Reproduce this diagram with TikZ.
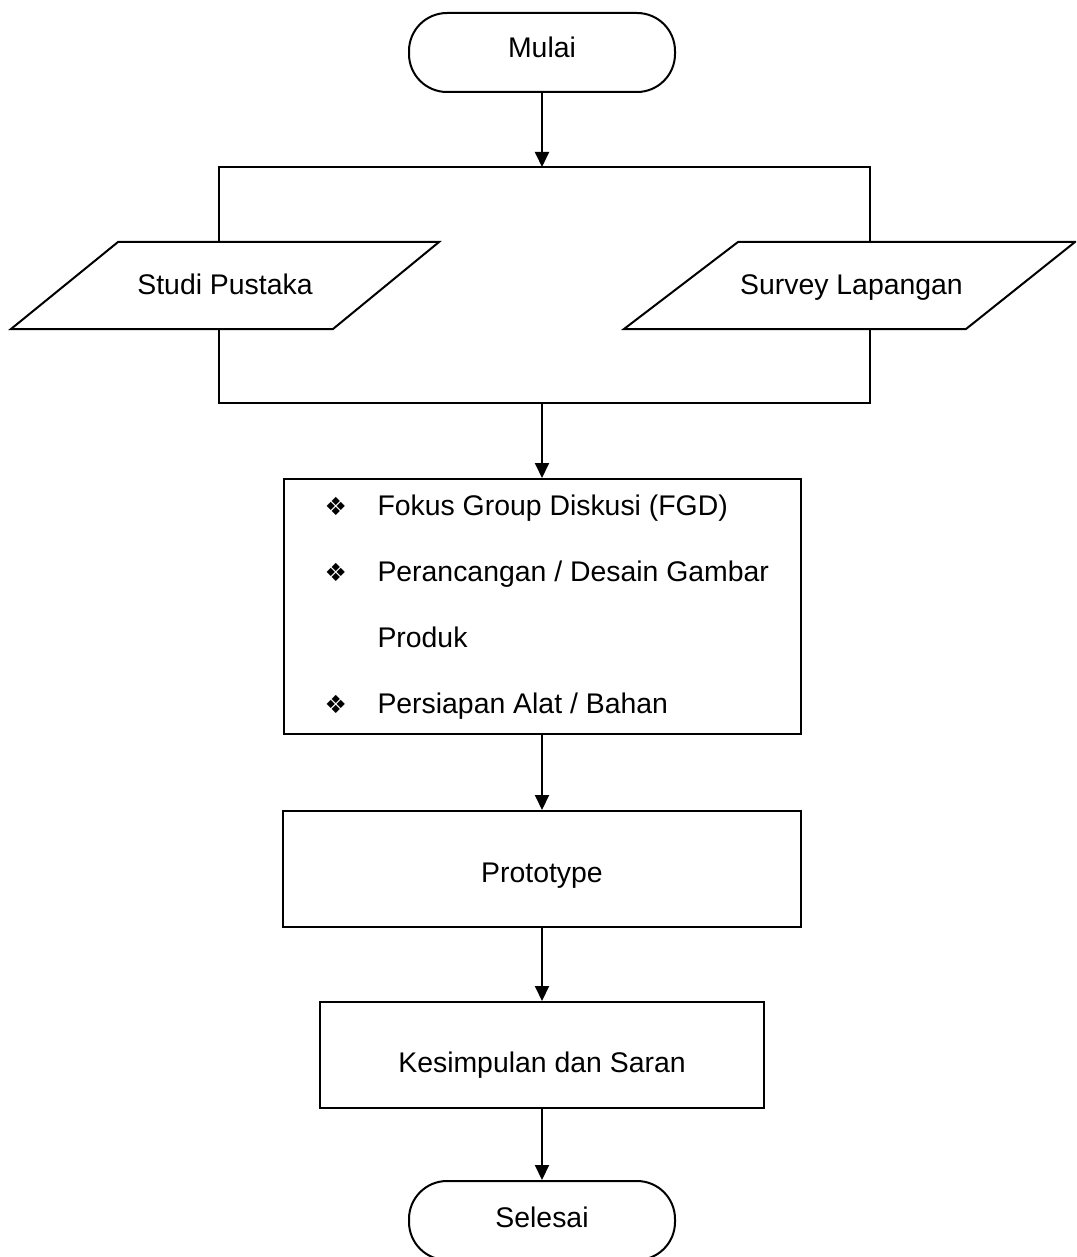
\documentclass[tikz,border=0pt]{standalone}
\usepackage{fontspec}
\setmainfont{Liberation Sans}
\newfontfamily\dingfont{DejaVu Sans}
\usepackage{tikz}
\usetikzlibrary{arrows.meta}

\newcommand{\itembul}{\makebox[26.5pt][l]{\fontsize{12.5}{12.5}\dingfont ❖}}

\begin{document}
\begin{tikzpicture}[x=0.5pt,y=-0.5pt,->,>={Triangle[length=7.5pt,width=7pt]},line width=1pt,
                    font=\fontsize{14.2}{17}\selectfont,
                    term node/.style={rectangle,draw,rounded corners=19pt,minimum width=133pt,minimum height=39.5pt,
                                      text height=10.2pt},
                    box node/.style={rectangle,draw,text depth=0pt}]

  \useasboundingbox (0,0) rectangle (1076,1257);
  \clip (0,0) rectangle (1076,1257);

  \node[term node,text depth=4.7pt] (mulai) at (542,52.5) {Mulai};
  \coordinate (split) at (542,167);
  \coordinate (sp-l) at (219,242);
  \coordinate (sp-r) at (870,242);

  \node[anchor=base] (studi) at (225,294) {Studi Pustaka};
  \node[anchor=base] (survey) at (851.5,294) {Survey Lapangan};
  \draw[-] (118,242) -- (439,242) -- (333,329) -- (11,329) -- cycle;
  \draw[-] (738,242) -- (1075,242) -- (966,329) -- (624,329) -- cycle;

  \coordinate (jn-l) at (219,329);
  \coordinate (jn-r) at (870,329);
  \coordinate (join) at (542,403);

  \node[box node,minimum width=258.5pt,minimum height=127.5pt] (fgd) at (542,606.5) {};
  \node[anchor=west,align=left,inner sep=0pt,font=\fontsize{14.2}{33}\selectfont] (fgdlist)
    at ([xshift=20.5pt,yshift=-0.25pt]fgd.west)
    {\itembul Fokus Group Diskusi (FGD)\\
     \itembul Perancangan / Desain Gambar\\
     \hspace*{26.5pt}Produk\\
     \itembul Persiapan Alat / Bahan};

  \node[box node,minimum width=259pt,minimum height=58pt,text height=13pt] (proto) at (542,869) {Prototype};
  \node[box node,minimum width=222pt,minimum height=53pt,text height=17pt] (kesimpulan) at (542,1055) {Kesimpulan dan Saran};
  \node[term node,text depth=3.7pt] (selesai) at (542,1220.5) {Selesai};

  \draw (mulai) -- (split);
  \draw[-] (sp-l) |- (split) -| (sp-r);
  \draw[-] (jn-l) |- (join) -| (jn-r);
  \draw (join) -- (fgd);
  \draw (fgd) -- (proto);
  \draw (proto) -- (kesimpulan);
  \draw (kesimpulan) -- (selesai);
\end{tikzpicture}
\end{document}
